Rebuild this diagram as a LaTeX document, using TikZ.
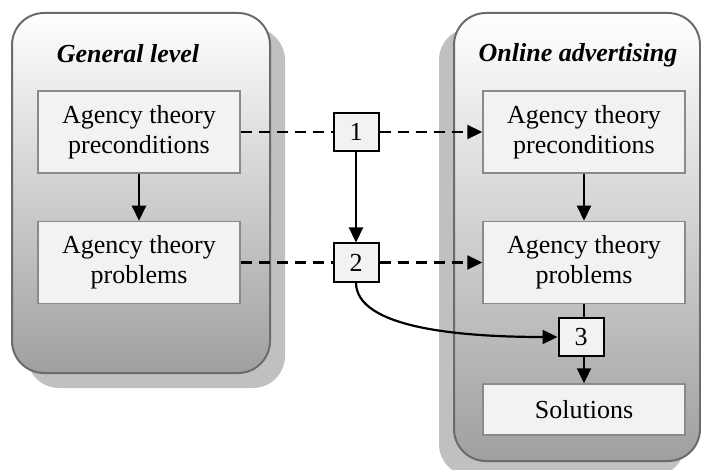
\documentclass[tikz,border=0pt]{standalone}
\usepackage{fontspec}
\setmainfont{Liberation Serif}
\usetikzlibrary{arrows.meta}
\definecolor{PanelEdge}{HTML}{6B6B6B}
\definecolor{BoxEdge}{HTML}{8A8A8A}
\definecolor{BoxFill}{HTML}{F2F2F2}
\definecolor{ShadowGray}{HTML}{C0C0C0}

\begin{document}
\begin{tikzpicture}[x=1pt,y=1pt,
    panel/.style={draw=PanelEdge,line width=2pt,rounded corners=32pt,top color=white,bottom color=gray!75},
    shadowbox/.style={fill=ShadowGray,rounded corners=32pt},
    title/.style={anchor=base,font=\bfseries\itshape\fontsize{26}{30}\selectfont},
    item/.style={draw=BoxEdge,line width=1.5pt,fill=BoxFill,minimum width=202pt,minimum height=82pt,align=center,font=\fontsize{26}{30}\selectfont},
    numbox/.style={draw,line width=2pt,fill=BoxFill,minimum width=45pt,minimum height=38pt,inner sep=0pt,font=\fontsize{26}{30}\selectfont},
    flow/.style={line width=2.2pt,-{Triangle[width=14pt,length=15pt]}},
    link/.style={line width=2.2pt,dash pattern=on 11pt off 7pt}]
  \useasboundingbox (0,0) rectangle (701,-470);

  % left panel
  \fill[shadowbox] (27,-28) rectangle (285,-388);
  \draw[panel] (12,-13) rectangle (270,-373);
  \node[title] (gentitle) at (128,-63) {General level};
  \node[item] (genpre) at (139,-132) {Agency theory\\preconditions};
  \node[item] (genprob) at (139,-262.5) {Agency theory\\problems};

  % right panel
  \fill[shadowbox] (439,-28) rectangle (685,-476);
  \draw[panel] (454,-13) rectangle (700,-461);
  \node[title] (ontitle) at (578,-62) {Online advertising};
  \node[item] (onpre) at (584,-132) {Agency theory\\preconditions};
  \node[item] (onprob) at (584,-262.5) {Agency theory\\problems};
  \node[item,minimum height=51pt] (sol) at (584,-409.5) {Solutions};

  % numbered steps
  \node[numbox] (n1) at (356,-132) {1};
  \node[numbox] (n2) at (356,-262.5) {2};
  \node[numbox] (n3) at (581,-337) {3};

  \draw[flow] (genpre) -- (genprob);
  \draw[link] (genpre) -- (n1);
  \draw[link,flow] (n1) -- (onpre);
  \draw[flow] (n1) -- (n2);
  \draw[link] (genprob) -- (n2);
  \draw[link,flow] (n2) -- (onprob);
  \draw[flow] (onpre) -- (onprob);
  \draw[line width=2.2pt] (onprob.south) -- (onprob.south |- n3.north);
  \draw[flow] (onprob.south |- n3.south) -- (sol.north);
  \draw[flow] (n2.south) .. controls +(0,-45) and +(-100,0) .. (n3.west);
\end{tikzpicture}
\end{document}
